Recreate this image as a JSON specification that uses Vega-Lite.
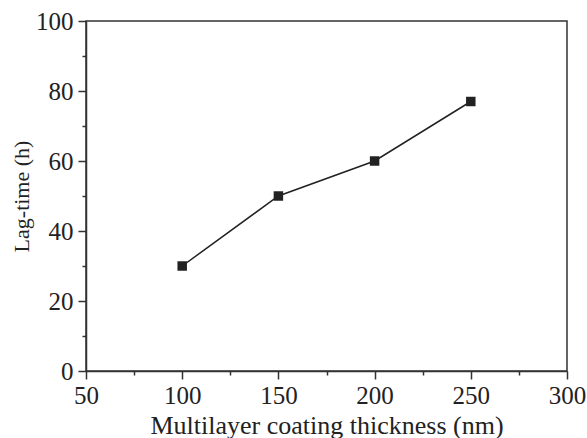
{
  "$schema": "https://vega.github.io/schema/vega-lite/v6.json",
  "width": 481,
  "height": 350,
  "autosize": {"type": "none"},
  "padding": {"left": 86, "top": 21, "right": 20, "bottom": 67},
  "background": "white",
  "config": {
    "view": {"stroke": "#333", "strokeWidth": 1.5},
    "axis": {
      "labelFont": "Liberation Serif",
      "titleFont": "Liberation Serif",
      "labelFontSize": 25,
      "titleFontSize": 25,
      "titleFontWeight": "normal",
      "labelColor": "#222",
      "titleColor": "#222",
      "domainColor": "#333",
      "domainWidth": 1.5,
      "tickColor": "#333",
      "tickWidth": 1.5,
      "grid": false
    }
  },
  "data": {
    "values": [
      {"thickness": 100, "lag": 30},
      {"thickness": 150, "lag": 50},
      {"thickness": 200, "lag": 60},
      {"thickness": 250, "lag": 77}
    ]
  },
  "layer": [
    {
      "mark": {"type": "line", "color": "#222", "strokeWidth": 1.5},
      "encoding": {
        "x": {
          "field": "thickness", "type": "quantitative",
          "scale": {"domain": [50, 300], "nice": false},
          "axis": {"values": [50, 100, 150, 200, 250, 300], "tickSize": 8, "labelPadding": 4, "title": "Multilayer coating thickness (nm)", "titleFontSize": 26, "titlePadding": 4, "orient": "bottom", "labelFlush": false}
        },
        "y": {
          "field": "lag", "type": "quantitative",
          "scale": {"domain": [0, 100], "nice": false},
          "axis": {"values": [0, 20, 40, 60, 80, 100], "tickSize": 8, "labelPadding": 5, "title": "Lag-time (h)", "titleFontSize": 22, "titlePadding": 2, "orient": "left", "labelFlush": false}
        }
      }
    },
    {
      "mark": {"type": "point", "shape": "square", "filled": true, "size": 90, "color": "#222", "opacity": 1},
      "encoding": {
        "x": {
          "field": "thickness", "type": "quantitative",
          "scale": {"domain": [50, 300], "nice": false},
          "axis": {"values": [75, 125, 175, 225, 275], "tickSize": 4, "labels": false, "domain": false, "title": null, "orient": "bottom"}
        },
        "y": {
          "field": "lag", "type": "quantitative",
          "scale": {"domain": [0, 100], "nice": false},
          "axis": {"values": [10, 30, 50, 70, 90], "tickSize": 4, "labels": false, "domain": false, "title": null, "orient": "left"}
        }
      }
    }
  ],
  "resolve": {"axis": {"x": "independent", "y": "independent"}}
}
